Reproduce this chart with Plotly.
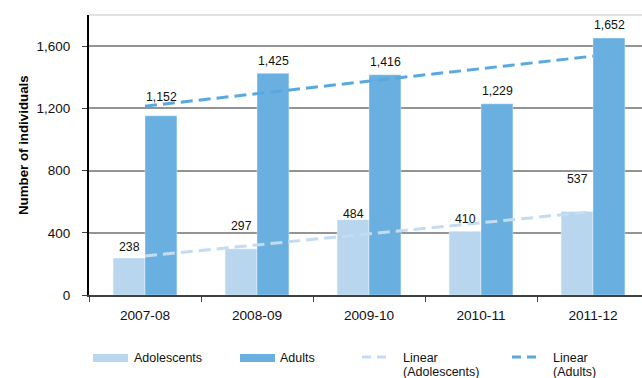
import numpy as np
import plotly.graph_objects as go

categories = ["2007-08", "2008-09", "2009-10", "2010-11", "2011-12"]
adolescents = [238, 297, 484, 410, 537]
adults = [1152, 1425, 1416, 1229, 1652]
y_ticks = [0, 400, 800, 1200, 1600]

# styling
C_ADO = "#B9D6EF"
C_ADU = "#69B0E1"
C_TR_ADO = "#C4DCF1"
C_TR_ADU = "#5AA8DE"
FONT = "Liberation Sans, Arial, sans-serif"
L, R, T, B = 89, 0, 15, 83
W, H = 642, 378
PW, PH = W - L - R, H - T - B
label_shift_ado = [11, 23, 6, 12, 32]
label_shift_adu = [19, 12, 13, 13, 13]


def px(x):
    return (x - L) / PW


def py(y):
    return (H - B - y) / PH


xi = np.arange(len(categories))
fit_ado = np.polyfit(xi, adolescents, 1)
fit_adu = np.polyfit(xi, adults, 1)
trend_x = [categories[0], categories[-1]]
trend_ado = list(np.polyval(fit_ado, [xi[0], xi[-1]]))
trend_adu = list(np.polyval(fit_adu, [xi[0], xi[-1]]))

fig = go.Figure()
fig.add_bar(x=categories, y=adolescents, name="Adolescents", marker_color=C_ADO,
            marker_line=dict(color="rgba(255,255,255,0.6)", width=0.6))
fig.add_bar(x=categories, y=adults, name="Adults", marker_color=C_ADU,
            marker_line=dict(color="rgba(255,255,255,0.6)", width=0.6))
fig.add_scatter(x=trend_x, y=trend_ado, mode="lines", name="Linear (Adolescents)",
                line=dict(color=C_TR_ADO, width=3, dash="12px,6px"))
fig.add_scatter(x=trend_x, y=trend_adu, mode="lines", name="Linear (Adults)",
                line=dict(color=C_TR_ADU, width=3, dash="12px,6px"))

annotations = []
for i, c in enumerate(categories):
    annotations.append(dict(x=c, y=adolescents[i], xref="x", yref="y",
                            text=f"{adolescents[i]:,}", showarrow=False,
                            xshift=-16, yshift=label_shift_ado[i], yanchor="middle",
                            font=dict(family=FONT, size=12.3, color="#111")))
    annotations.append(dict(x=c, y=adults[i], xref="x", yref="y",
                            text=f"{adults[i]:,}", showarrow=False,
                            xshift=16, yshift=label_shift_adu[i], yanchor="middle",
                            font=dict(family=FONT, size=12.3, color="#111")))

# y-axis title
annotations.append(dict(x=px(23), y=py(145), xref="paper", yref="paper",
                        text="<b>Number of individuals</b>", textangle=-90,
                        showarrow=False, xanchor="center", yanchor="middle",
                        font=dict(family=FONT, size=13.3, color="#000")))

shapes = []
# top border line
shapes.append(dict(type="line", xref="paper", yref="paper", x0=0, x1=1, y0=1, y1=1,
                   line=dict(color="#C4C4C4", width=1.2)))

# legend
leg_y = 358
legend_items = [
    ("bar", C_ADO, 93, 128, ["Adolescents"], 132),
    ("bar", C_ADU, 240, 275, ["Adults"], 278),
    ("line", C_TR_ADO, 362, 388, ["Linear", "(Adolescents)"], 401),
    ("line", C_TR_ADU, 512, 538, ["Linear", "(Adults)"], 551),
]
for kind, col, x0, x1, lines, tx in legend_items:
    if kind == "bar":
        shapes.append(dict(type="rect", xref="paper", yref="paper",
                           x0=px(x0), x1=px(x1), y0=py(leg_y - 4), y1=py(leg_y + 4),
                           fillcolor=col, line=dict(width=0)))
    else:
        shapes.append(dict(type="line", xref="paper", yref="paper",
                           x0=px(x0), x1=px(x1), y0=py(leg_y - 1), y1=py(leg_y - 1),
                           line=dict(color=col, width=3, dash="9px,6px")))
    for k, txt in enumerate(lines):
        annotations.append(dict(x=px(tx), y=py(leg_y + 14 * k), xref="paper", yref="paper",
                                text=txt, showarrow=False, xanchor="left", yanchor="middle",
                                align="left",
                                font=dict(family=FONT, size=12.5, color="#111")))

fig.update_layout(
    width=W, height=H,
    margin=dict(l=L, r=R, t=T, b=B),
    paper_bgcolor="white", plot_bgcolor="white",
    barmode="group", bargap=0.43, bargroupgap=0,
    showlegend=False,
    annotations=annotations, shapes=shapes,
    font=dict(family=FONT, size=13.5, color="#111"),
)
fig.update_xaxes(
    type="category", range=[-0.5, -0.5 + PW / 112],
    showline=True, linecolor="#404040", linewidth=2,
    ticks="outside", tickson="boundaries", ticklen=5, tickcolor="#404040", tickwidth=1,
    showgrid=False, ticklabelstandoff=7,
    tickfont=dict(family=FONT, size=13.7, color="#111"),
)
fig.update_yaxes(
    range=[0, 1800], tickvals=y_ticks, ticktext=[f"{v:,}" for v in y_ticks],
    showline=True, linecolor="#000", linewidth=2,
    ticks="outside", ticklen=5, tickcolor="#404040",
    showgrid=True, gridcolor="#949494", gridwidth=1.5,
    zeroline=False, ticklabelstandoff=9,
    tickfont=dict(family=FONT, size=13.5, color="#111"),
)

fig.write_html("out.html")
